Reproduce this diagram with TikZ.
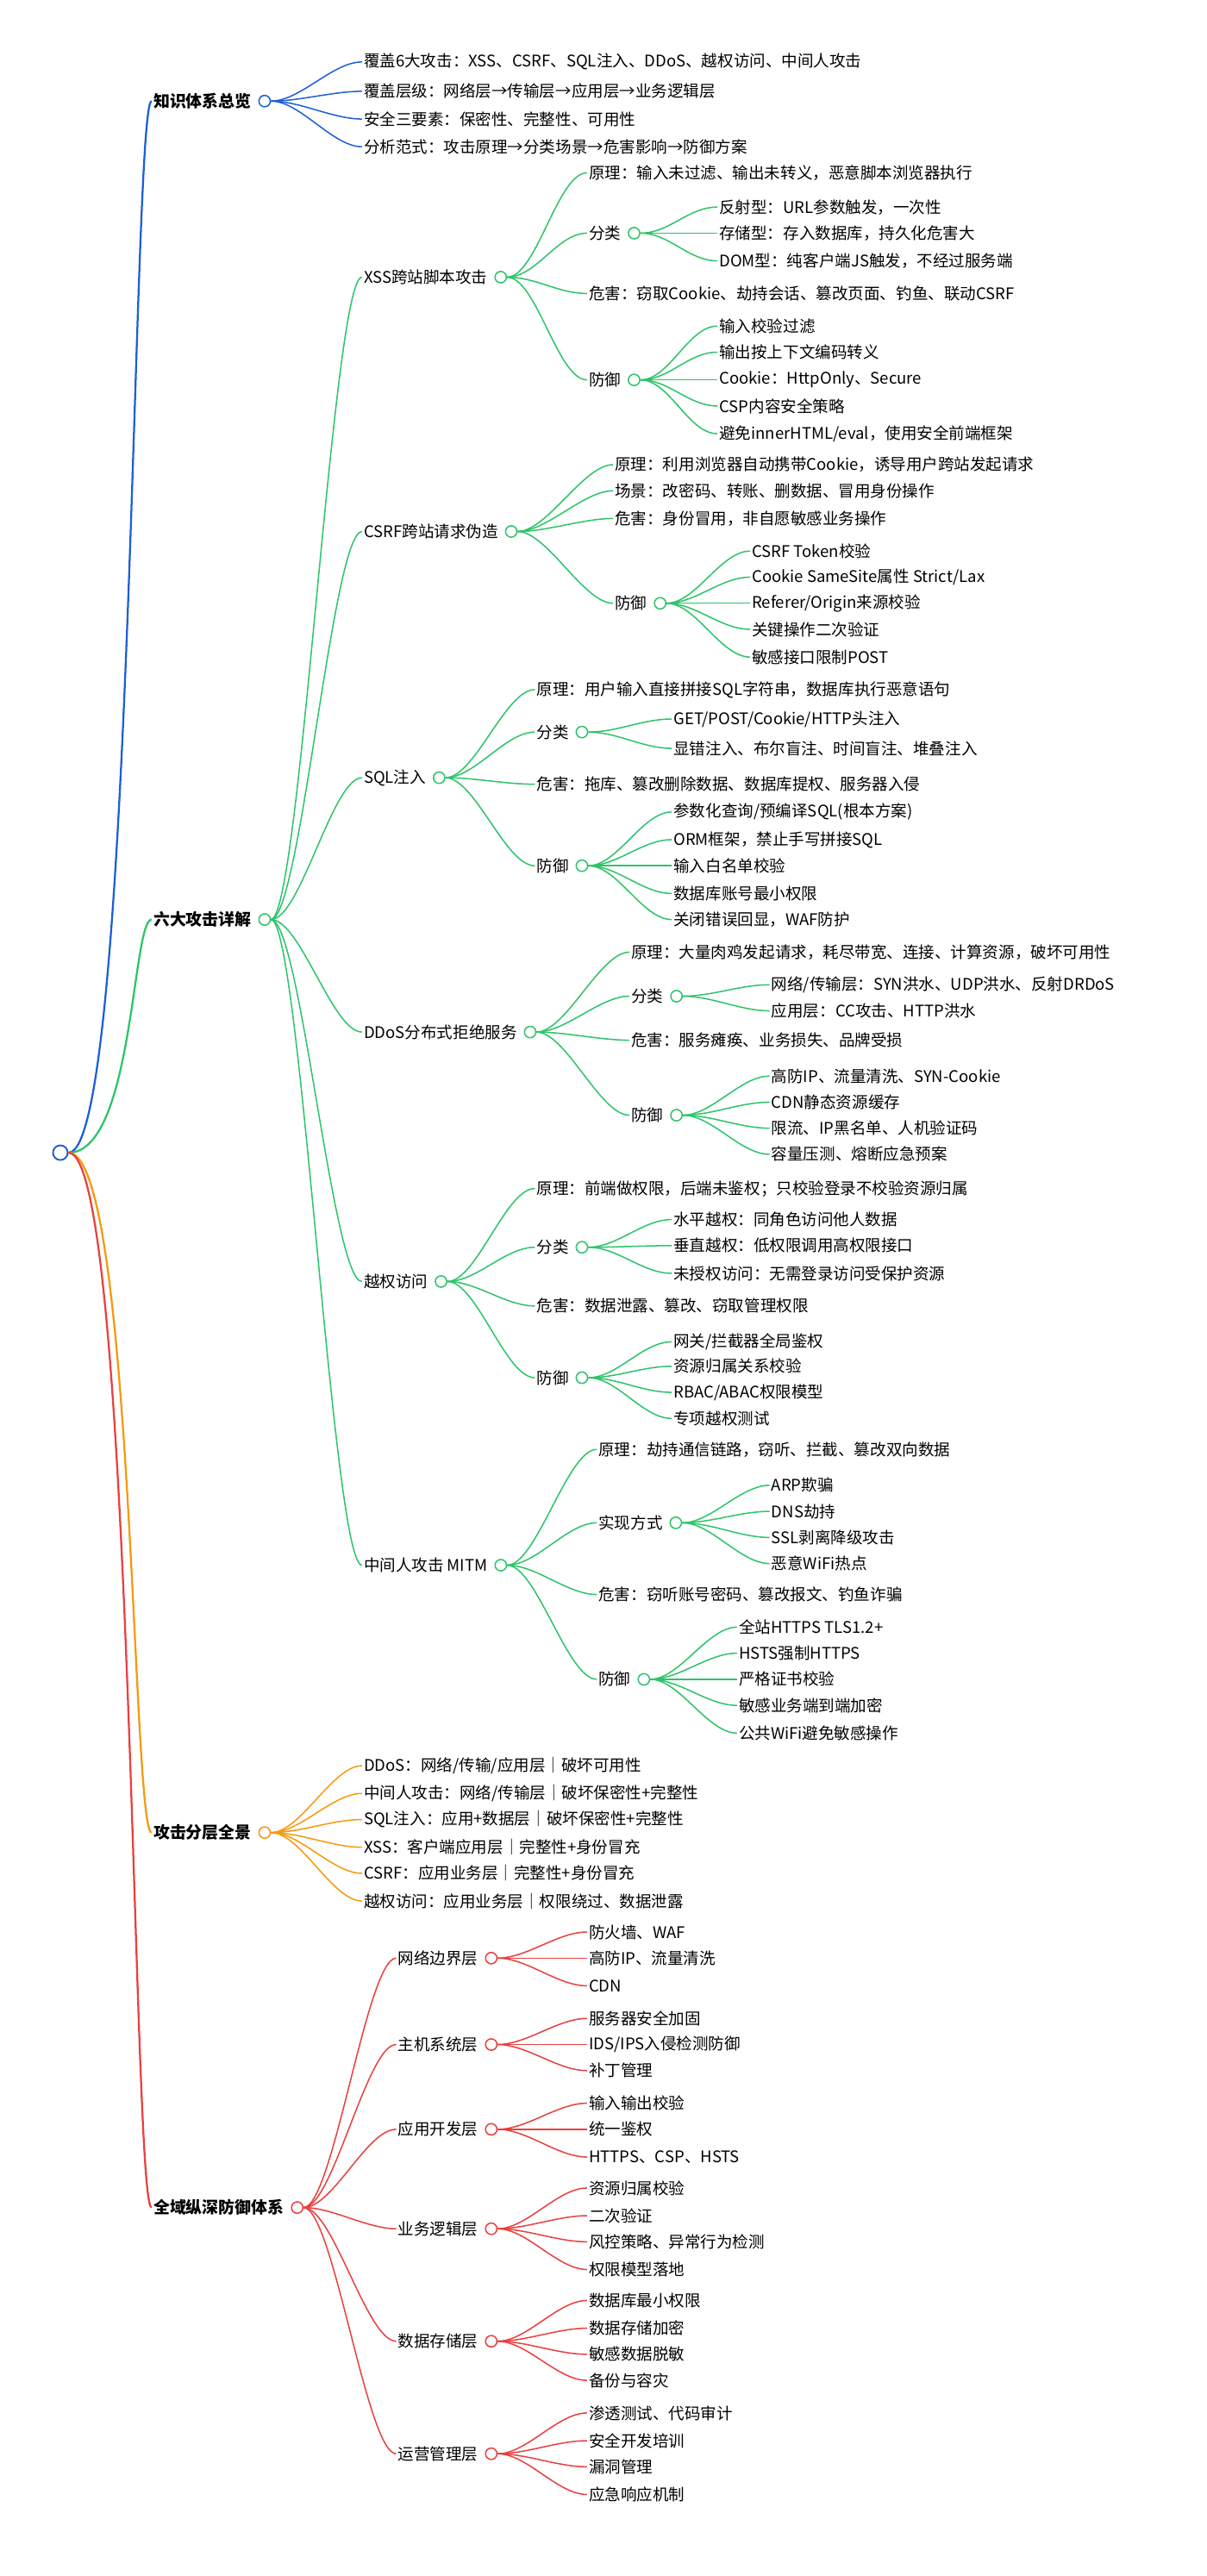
\documentclass[tikz,border=0pt]{standalone}
\usepackage{fontspec}
\setmainfont{Noto Sans CJK SC}
\definecolor{cb}{HTML}{1D5FD8}
\definecolor{cg}{HTML}{2DC46A}
\definecolor{co}{HTML}{F59A0E}
\definecolor{cr}{HTML}{E8413F}
\newcommand\lf[4]{\node[lf,anchor=west] (#1) at (#2,#3) {#4};}
\newcommand\br[5]{\node[lf,anchor=west] (#1) at (#2,#3) {#4};
  \node[dot,draw=#5,anchor=west] (#1c) at ([xshift=3pt]#1.east) {};}
\newcommand\ed[3]{\draw[#1] (#2c.east) .. controls +(18,0) and +(-18,0) .. (#3.west);}
\begin{document}
\begin{tikzpicture}[x=1pt,y=-1pt,
  lf/.style={font=\fontsize{9.8}{12}\selectfont,inner sep=1pt},
  dot/.style={circle,fill=white,minimum size=7pt,inner sep=0pt,line width=0.8pt},
  B/.style={cb,line width=0.8pt},G/.style={cg,line width=0.8pt},
  O/.style={co,line width=0.8pt},R/.style={cr,line width=0.8pt}]
\useasboundingbox (0,0) rectangle (740,1580);
\node[circle,draw=cb,fill=white,minimum size=9pt,inner sep=0pt,line width=1pt] (rootc) at (37,707) {};
% level 1
\node[lf,anchor=west,font=\fontsize{10}{12}\selectfont\bfseries] (K) at (93,62) {知识体系总览};
\node[dot,draw=cb,anchor=west] (Kc) at ([xshift=3pt]K.east) {};
\node[lf,anchor=west,font=\fontsize{10}{12}\selectfont\bfseries] (S) at (93,564) {六大攻击详解};
\node[dot,draw=cg,anchor=west] (Sc) at ([xshift=3pt]S.east) {};
\node[lf,anchor=west,font=\fontsize{10}{12}\selectfont\bfseries] (L) at (93,1124) {攻击分层全景};
\node[dot,draw=co,anchor=west] (Lc) at ([xshift=3pt]L.east) {};
\node[lf,anchor=west,font=\fontsize{10}{12}\selectfont\bfseries] (D) at (93,1354) {全域纵深防御体系};
\node[dot,draw=cr,anchor=west] (Dc) at ([xshift=3pt]D.east) {};
\draw[cb,line width=1.2pt] (rootc.east) .. controls +(40,0) and +(-12,0) .. (K.west);
\draw[cg,line width=1.2pt] (rootc.east) .. controls +(40,0) and +(-12,0) .. (S.west);
\draw[co,line width=1.2pt] (rootc.east) .. controls +(40,0) and +(-12,0) .. (L.west);
\draw[cr,line width=1.2pt] (rootc.east) .. controls +(40,0) and +(-12,0) .. (D.west);
% overview
\lf{k1}{222}{38}{覆盖6大攻击：XSS、CSRF、SQL注入、DDoS、越权访问、中间人攻击}
\lf{k2}{222}{56}{覆盖层级：网络层→传输层→应用层→业务逻辑层}
\lf{k3}{222}{73}{安全三要素：保密性、完整性、可用性}
\lf{k4}{222}{90}{分析范式：攻击原理→分类场景→危害影响→防御方案}
\foreach \i in {k1,k2,k3,k4}{\ed{B}{K}{\i}}
% XSS
\br{x}{222}{170}{XSS跨站脚本攻击}{cg}
\ed{G}{S}{x}
\lf{x1}{360}{106}{原理：输入未过滤、输出未转义，恶意脚本浏览器执行}
\br{x2}{360}{143}{分类}{cg}
\lf{x3}{360}{180}{危害：窃取Cookie、劫持会话、篡改页面、钓鱼、联动CSRF}
\br{x4}{360}{233}{防御}{cg}
\foreach \i in {x1,x2,x3,x4}{\ed{G}{x}{\i}}
\lf{x21}{440}{127}{反射型：URL参数触发，一次性}
\lf{x22}{440}{143}{存储型：存入数据库，持久化危害大}
\lf{x23}{440}{160}{DOM型：纯客户端JS触发，不经过服务端}
\foreach \i in {x21,x22,x23}{\ed{G}{x2}{\i}}
\lf{x41}{440}{200}{输入校验过滤}
\lf{x42}{440}{216}{输出按上下文编码转义}
\lf{x43}{440}{233}{Cookie：HttpOnly、Secure}
\lf{x44}{440}{249}{CSP内容安全策略}
\lf{x45}{440}{266}{避免innerHTML/eval，使用安全前端框架}
\foreach \i in {x41,x42,x43,x44,x45}{\ed{G}{x4}{\i}}
% CSRF
\br{c}{222}{326}{CSRF跨站请求伪造}{cg}
\ed{G}{S}{c}
\lf{c1}{376}{285}{原理：利用浏览器自动携带Cookie，诱导用户跨站发起请求}
\lf{c2}{376}{301}{场景：改密码、转账、删数据、冒用身份操作}
\lf{c3}{376}{318}{危害：身份冒用，非自愿敏感业务操作}
\br{c4}{376}{370}{防御}{cg}
\foreach \i in {c1,c2,c3,c4}{\ed{G}{c}{\i}}
\lf{c41}{460}{338}{CSRF Token校验}
\lf{c42}{460}{354}{Cookie SameSite属性 Strict/Lax}
\lf{c43}{460}{370}{Referer/Origin来源校验}
\lf{c44}{460}{386}{关键操作二次验证}
\lf{c45}{460}{403}{敏感接口限制POST}
\foreach \i in {c41,c42,c43,c44,c45}{\ed{G}{c4}{\i}}
% SQL
\br{q}{222}{477}{SQL注入}{cg}
\ed{G}{S}{q}
\lf{q1}{328}{423}{原理：用户输入直接拼接SQL字符串，数据库执行恶意语句}
\br{q2}{328}{449}{分类}{cg}
\lf{q3}{328}{481}{危害：拖库、篡改删除数据、数据库提权、服务器入侵}
\br{q4}{328}{531}{防御}{cg}
\foreach \i in {q1,q2,q3,q4}{\ed{G}{q}{\i}}
\lf{q21}{412}{441}{GET/POST/Cookie/HTTP头注入}
\lf{q22}{412}{459}{显错注入、布尔盲注、时间盲注、堆叠注入}
\foreach \i in {q21,q22}{\ed{G}{q2}{\i}}
\lf{q41}{412}{498}{参数化查询/预编译SQL(根本方案)}
\lf{q42}{412}{515}{ORM框架，禁止手写拼接SQL}
\lf{q43}{412}{531}{输入白名单校验}
\lf{q44}{412}{548}{数据库账号最小权限}
\lf{q45}{412}{564}{关闭错误回显，WAF防护}
\foreach \i in {q41,q42,q43,q44,q45}{\ed{G}{q4}{\i}}
% DDoS
\br{d}{222}{633}{DDoS分布式拒绝服务}{cg}
\ed{G}{S}{d}
\lf{d1}{386}{584}{原理：大量肉鸡发起请求，耗尽带宽、连接、计算资源，破坏可用性}
\br{d2}{386}{611}{分类}{cg}
\lf{d3}{386}{638}{危害：服务瘫痪、业务损失、品牌受损}
\br{d4}{386}{684}{防御}{cg}
\foreach \i in {d1,d2,d3,d4}{\ed{G}{d}{\i}}
\lf{d21}{472}{604}{网络/传输层：SYN洪水、UDP洪水、反射DRDoS}
\lf{d22}{472}{620}{应用层：CC攻击、HTTP洪水}
\foreach \i in {d21,d22}{\ed{G}{d2}{\i}}
\lf{d41}{472}{660}{高防IP、流量清洗、SYN-Cookie}
\lf{d42}{472}{676}{CDN静态资源缓存}
\lf{d43}{472}{692}{限流、IP黑名单、人机验证码}
\lf{d44}{472}{708}{容量压测、熔断应急预案}
\foreach \i in {d41,d42,d43,d44}{\ed{G}{d4}{\i}}
% 越权
\br{y}{222}{786}{越权访问}{cg}
\ed{G}{S}{y}
\lf{y1}{328}{729}{原理：前端做权限，后端未鉴权；只校验登录不校验资源归属}
\br{y2}{328}{765}{分类}{cg}
\lf{y3}{328}{801}{危害：数据泄露、篡改、窃取管理权限}
\br{y4}{328}{845}{防御}{cg}
\foreach \i in {y1,y2,y3,y4}{\ed{G}{y}{\i}}
\lf{y21}{412}{748}{水平越权：同角色访问他人数据}
\lf{y22}{412}{764}{垂直越权：低权限调用高权限接口}
\lf{y23}{412}{781}{未授权访问：无需登录访问受保护资源}
\foreach \i in {y21,y22,y23}{\ed{G}{y2}{\i}}
\lf{y41}{412}{823}{网关/拦截器全局鉴权}
\lf{y42}{412}{838}{资源归属关系校验}
\lf{y43}{412}{854}{RBAC/ABAC权限模型}
\lf{y44}{412}{870}{专项越权测试}
\foreach \i in {y41,y42,y43,y44}{\ed{G}{y4}{\i}}
% MITM
\br{m}{222}{960}{中间人攻击 MITM}{cg}
\ed{G}{S}{m}
\lf{m1}{366}{889}{原理：劫持通信链路，窃听、拦截、篡改双向数据}
\br{m2}{366}{934}{实现方式}{cg}
\lf{m3}{366}{978}{危害：窃听账号密码、篡改报文、钓鱼诈骗}
\br{m4}{366}{1030}{防御}{cg}
\foreach \i in {m1,m2,m3,m4}{\ed{G}{m}{\i}}
\lf{m21}{472}{911}{ARP欺骗}
\lf{m22}{472}{927}{DNS劫持}
\lf{m23}{472}{943}{SSL剥离降级攻击}
\lf{m24}{472}{959}{恶意WiFi热点}
\foreach \i in {m21,m22,m23,m24}{\ed{G}{m2}{\i}}
\lf{m41}{452}{998}{全站HTTPS TLS1.2+}
\lf{m42}{452}{1014}{HSTS强制HTTPS}
\lf{m43}{452}{1030}{严格证书校验}
\lf{m44}{452}{1046}{敏感业务端到端加密}
\lf{m45}{452}{1063}{公共WiFi避免敏感操作}
\foreach \i in {m41,m42,m43,m44,m45}{\ed{G}{m4}{\i}}
% layers
\lf{l1}{222}{1083}{DDoS：网络/传输/应用层｜破坏可用性}
\lf{l2}{222}{1100}{中间人攻击：网络/传输层｜破坏保密性+完整性}
\lf{l3}{222}{1116}{SQL注入：应用+数据层｜破坏保密性+完整性}
\lf{l4}{222}{1133}{XSS：客户端应用层｜完整性+身份冒充}
\lf{l5}{222}{1149}{CSRF：应用业务层｜完整性+身份冒充}
\lf{l6}{222}{1166}{越权访问：应用业务层｜权限绕过、数据泄露}
\foreach \i in {l1,l2,l3,l4,l5,l6}{\ed{O}{L}{\i}}
% defense in depth
\br{p1}{243}{1201}{网络边界层}{cr}
\br{p2}{243}{1254}{主机系统层}{cr}
\br{p3}{243}{1306}{应用开发层}{cr}
\br{p4}{243}{1367}{业务逻辑层}{cr}
\br{p5}{243}{1436}{数据存储层}{cr}
\br{p6}{243}{1505}{运营管理层}{cr}
\foreach \i in {p1,p2,p3,p4,p5,p6}{\ed{R}{D}{\i}}
\lf{p11}{360}{1185}{防火墙、WAF}
\lf{p12}{360}{1201}{高防IP、流量清洗}
\lf{p13}{360}{1218}{CDN}
\foreach \i in {p11,p12,p13}{\ed{R}{p1}{\i}}
\lf{p21}{360}{1238}{服务器安全加固}
\lf{p22}{360}{1254}{IDS/IPS入侵检测防御}
\lf{p23}{360}{1270}{补丁管理}
\foreach \i in {p21,p22,p23}{\ed{R}{p2}{\i}}
\lf{p31}{360}{1290}{输入输出校验}
\lf{p32}{360}{1306}{统一鉴权}
\lf{p33}{360}{1323}{HTTPS、CSP、HSTS}
\foreach \i in {p31,p32,p33}{\ed{R}{p3}{\i}}
\lf{p41}{360}{1342}{资源归属校验}
\lf{p42}{360}{1359}{二次验证}
\lf{p43}{360}{1375}{风控策略、异常行为检测}
\lf{p44}{360}{1392}{权限模型落地}
\foreach \i in {p41,p42,p43,p44}{\ed{R}{p4}{\i}}
\lf{p51}{360}{1411}{数据库最小权限}
\lf{p52}{360}{1428}{数据存储加密}
\lf{p53}{360}{1444}{敏感数据脱敏}
\lf{p54}{360}{1460}{备份与容灾}
\foreach \i in {p51,p52,p53,p54}{\ed{R}{p5}{\i}}
\lf{p61}{360}{1480}{渗透测试、代码审计}
\lf{p62}{360}{1497}{安全开发培训}
\lf{p63}{360}{1513}{漏洞管理}
\lf{p64}{360}{1530}{应急响应机制}
\foreach \i in {p61,p62,p63,p64}{\ed{R}{p6}{\i}}
\end{tikzpicture}
\end{document}
